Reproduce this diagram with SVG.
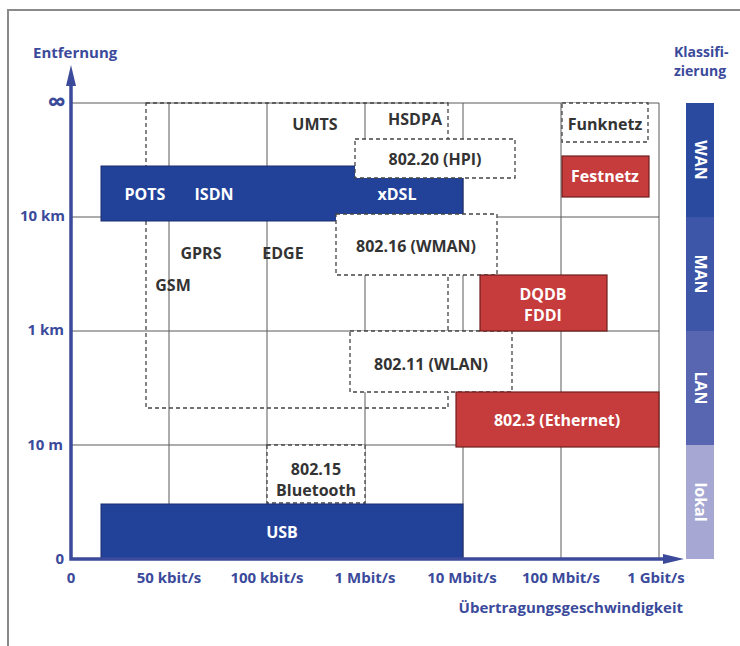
<svg xmlns="http://www.w3.org/2000/svg" width="740" height="646" viewBox="0 0 740 646">
<defs>
<style>
text{font-family:"Open Sans","Liberation Sans",sans-serif;font-weight:700;font-size:16px}
.ax{fill:#3b4a9b;font-size:15px}
.dk{fill:#333}
.wt{fill:#fff}
.mid{text-anchor:middle}
.end{text-anchor:end}
.grid{stroke:#5a5a5a;stroke-width:1;fill:none}
.dash{fill:#fff;stroke:#444;stroke-width:1.3;stroke-dasharray:4 3}
.dashn{fill:none;stroke:#444;stroke-width:1.3;stroke-dasharray:4 3}
.blue{fill:#22429a;stroke:#1a2d6e;stroke-width:1}
.red{fill:#c63b3b;stroke:#6e1e1e;stroke-width:1.2}
.axis{stroke:#3b4a9b;stroke-width:3.5;fill:none}
</style>
</defs>
<rect x="0" y="0" width="740" height="646" fill="#fff"/>
<rect x="8" y="10" width="800" height="700" fill="none" stroke="#8a8a8a" stroke-width="2"/>

<g id="grid">
<path class="grid" d="M71 103H659M71 217H659M71 331H659M71 445H659M169 103V559M267 103V559M365 103V559M463 103V559M561 103V559M659 103V559"/>
</g>

<g id="mobile-region"><rect class="dashn" x="146" y="103" width="302" height="305"/></g>

<g id="labels-mobile">
<text class="dk mid" x="315" y="130">UMTS</text>
<text class="dk mid" x="415" y="125">HSDPA</text>
<text class="dk mid" x="201" y="259">GPRS</text>
<text class="dk mid" x="283" y="259">EDGE</text>
<text class="dk mid" x="173" y="291">GSM</text>
</g>

<g id="n-xdsl"><rect class="blue" x="101" y="166" width="362" height="55"/>
<text class="wt mid" x="145" y="200">POTS</text>
<text class="wt mid" x="214" y="200">ISDN</text>
<text class="wt mid" x="397" y="200">xDSL</text></g>

<g id="n-80220"><rect class="dash" x="355" y="139" width="160" height="39"/>
<text class="dk mid" x="435" y="165">802.20 (HPI)</text></g>

<g id="n-80216"><rect class="dash" x="336" y="214" width="161" height="61"/>
<text class="dk mid" x="416" y="252">802.16 (WMAN)</text></g>

<g id="n-80211"><rect class="dash" x="350" y="331" width="162" height="61"/>
<text class="dk mid" x="431" y="370">802.11 (WLAN)</text></g>

<g id="n-dqdb"><rect class="red" x="480" y="275" width="127" height="56"/>
<text class="wt mid" x="543" y="300">DQDB</text>
<text class="wt mid" x="543" y="321">FDDI</text></g>

<g id="n-ethernet"><rect class="red" x="456" y="392" width="203" height="55"/>
<text class="wt mid" x="557" y="426">802.3 (Ethernet)</text></g>

<g id="n-bluetooth"><rect class="dash" x="267" y="445" width="98" height="58"/>
<text class="dk mid" x="316" y="475">802.15</text>
<text class="dk mid" x="316" y="496">Bluetooth</text></g>

<g id="n-usb"><rect class="blue" x="101" y="504" width="362" height="55"/>
<text class="wt mid" x="282" y="538">USB</text></g>

<g id="n-funknetz"><rect class="dash" x="562" y="103" width="86" height="39"/>
<text class="dk mid" x="605" y="130">Funknetz</text></g>

<g id="n-festnetz"><rect class="red" x="562" y="156" width="87" height="41"/>
<text class="wt mid" x="605" y="182">Festnetz</text></g>

<g id="axes">
<path class="axis" d="M71 85V559H665"/>
<polygon points="71,65 66,86 76,86" fill="#3b4a9b"/>
<polygon points="684,559 663,554 663,564" fill="#3b4a9b"/>
<text class="ax" x="33" y="58">Entfernung</text>
<text class="ax end" x="683" y="613">Übertragungsgeschwindigkeit</text>
<text class="ax end" x="66" y="111" style="font-size:26px">∞</text>
<text class="ax end" x="65" y="221">10 km</text>
<text class="ax end" x="64" y="335">1 km</text>
<text class="ax end" x="63" y="450">10 m</text>
<text class="ax end" x="64" y="564">0</text>
<text class="ax mid" x="71" y="583">0</text>
<text class="ax mid" x="169" y="583">50 kbit/s</text>
<text class="ax mid" x="267" y="583">100 kbit/s</text>
<text class="ax mid" x="365" y="583">1 Mbit/s</text>
<text class="ax mid" x="462" y="583">10 Mbit/s</text>
<text class="ax mid" x="561" y="583">100 Mbit/s</text>
<text class="ax mid" x="656" y="583">1 Gbit/s</text>
</g>

<g id="classification">
<text class="ax" x="674" y="57" style="font-size:14px">Klassifi-</text>
<text class="ax" x="674" y="76" style="font-size:14px">zierung</text>
<rect x="686" y="103" width="28" height="114" fill="#2a4aa0"/>
<rect x="686" y="217" width="28" height="114" fill="#3d56a8"/>
<rect x="686" y="331" width="28" height="114" fill="#5866b2"/>
<rect x="686" y="445" width="28" height="114" fill="#a6a8d3"/>
<text class="wt mid" transform="translate(700,160) rotate(90)" y="5">WAN</text>
<text class="wt mid" transform="translate(700,274) rotate(90)" y="5">MAN</text>
<text class="wt mid" transform="translate(700,388) rotate(90)" y="5">LAN</text>
<text class="wt mid" transform="translate(700,502) rotate(90)" y="5">lokal</text>
</g>
</svg>
